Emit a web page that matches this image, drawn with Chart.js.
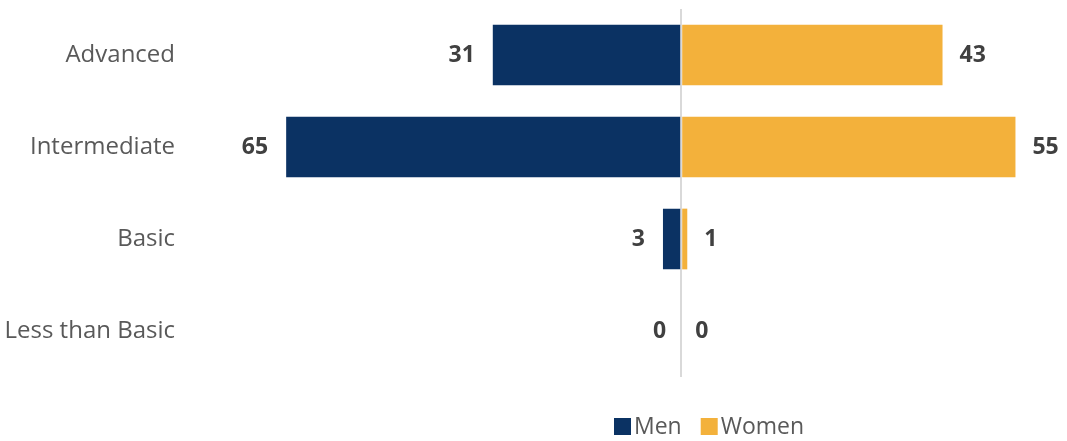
<!DOCTYPE html>
<html>
<head>
<meta charset="utf-8">
<script src="https://cdn.jsdelivr.net/npm/chart.js@4"></script>
<style>
  html, body { margin: 0; padding: 0; background: #fff; }
  #wrap { width: 1067px; height: 441px; }
</style>
</head>
<body>
<div id="wrap"><canvas id="literacy"></canvas></div>
<script>
const levels = ['Advanced', 'Intermediate', 'Basic', 'Less than Basic'];
const men = [31, 65, 3, 0];
const women = [43, 55, 1, 0];

const navy = '#0b3263';
const gold = '#f3b13b';
const labelFont = "'Open Sans', 'Noto Sans', sans-serif";

// value labels beside each bar: men to the left, women to the right
const valueLabels = {
    id: 'valueLabels',
    afterDatasetsDraw(chart) {
        const c = chart.ctx;
        const zero = chart.scales.x.getPixelForValue(0);
        c.save();
        c.font = 'bold 23px ' + labelFont;
        c.fillStyle = '#404040';
        c.textBaseline = 'middle';
        chart.data.datasets.forEach((ds, i) => {
            chart.getDatasetMeta(i).data.forEach((bar, j) => {
                const v = Math.abs(ds.data[j]);
                if (i === 0) {
                    c.textAlign = 'right';
                    c.fillText(v, v === 0 ? zero - 15 : bar.x - 18, bar.y);
                } else {
                    c.textAlign = 'left';
                    c.fillText(v, v === 0 ? zero + 14 : bar.x + 17, bar.y);
                }
            });
        });
        c.restore();
    }
};

// legend under the plot
const bottomLegend = {
    id: 'bottomLegend',
    afterDraw(chart) {
        const c = chart.ctx;
        c.save();
        c.font = '23px ' + labelFont;
        c.textBaseline = 'middle';
        c.textAlign = 'left';
        let x = 614;
        const y = 427;
        chart.data.datasets.forEach(ds => {
            c.fillStyle = ds.backgroundColor;
            c.fillRect(x, y - 9, 17, 17);
            c.fillStyle = '#595959';
            c.fillText(ds.label, x + 20, y);
            x += 20 + c.measureText(ds.label).width + 19;
        });
        c.restore();
    }
};

const chart = new Chart(document.getElementById('literacy'), {
    type: 'bar',
    data: {
        labels: levels,
        datasets: [{
            label: 'Men',
            data: men.map(v => -v),
            backgroundColor: navy,
            barPercentage: 0.66,
            categoryPercentage: 1
        }, {
            label: 'Women',
            data: women,
            backgroundColor: gold,
            barPercentage: 0.66,
            categoryPercentage: 1
        }]
    },
    options: {
        indexAxis: 'y',
        responsive: true,
        maintainAspectRatio: false,
        animation: false,
        layout: { padding: { top: 9, right: 9, bottom: 64, left: 0 } },
        scales: {
            x: {
                stacked: true,
                min: -80,
                max: 62,
                ticks: { display: false, stepSize: 10 },
                border: { display: false },
                grid: {
                    drawTicks: false,
                    lineWidth: 2,
                    color: ctx => ctx.tick && ctx.tick.value === 0 ? '#d9d9d9' : 'transparent'
                },
                afterFit: axis => {
                    axis.height = 0;
                    axis.paddingLeft = 0;
                    axis.paddingRight = 0;
                }
            },
            y: {
                stacked: true,
                border: { display: false },
                grid: { display: false, drawTicks: false },
                ticks: {
                    padding: 20,
                    color: '#595959',
                    font: { family: labelFont, size: 24 }
                },
                afterFit: axis => {
                    axis.width = 195;
                    axis.paddingTop = 0;
                    axis.paddingBottom = 0;
                }
            }
        },
        plugins: {
            legend: { display: false },
            tooltip: { enabled: false }
        }
    },
    plugins: [valueLabels, bottomLegend]
});
</script>
</body>
</html>
